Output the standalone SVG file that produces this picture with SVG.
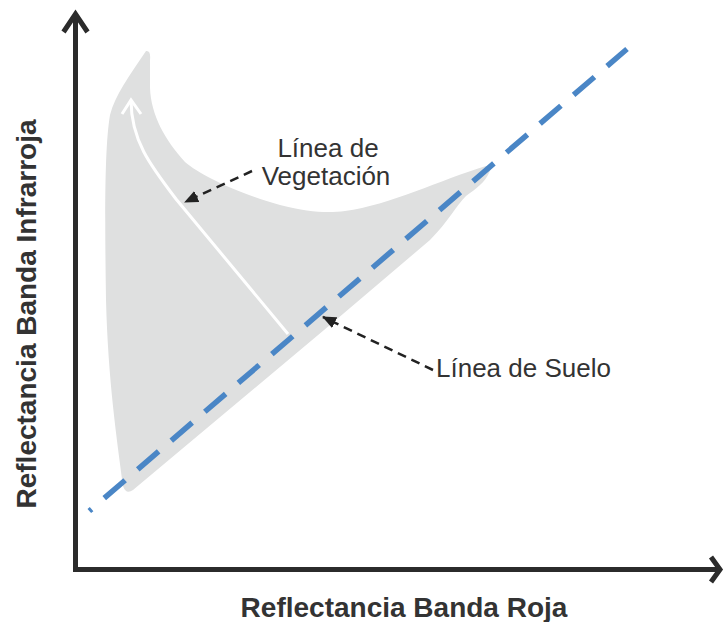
<svg xmlns="http://www.w3.org/2000/svg" width="725" height="622" viewBox="0 0 725 622">
  <defs>
    <style>
      .axis { fill: none; stroke: #2b2b2b; stroke-width: 5; stroke-linejoin: miter; }
      .lbl { font-family: "Liberation Sans", Arial, sans-serif; font-size: 26px; fill: #333333; }
      .axlbl { font-family: "Liberation Sans", Arial, sans-serif; font-size: 28px; font-weight: bold; fill: #333333; }
      .leader { fill: none; stroke: #222222; stroke-width: 2.5; stroke-dasharray: 9 6; }
    </style>
    <marker id="head" markerUnits="userSpaceOnUse" viewBox="0 0 14 12" refX="13" refY="6" markerWidth="14" markerHeight="12" orient="auto">
      <path d="M0,0 L14,6 L0,12 Z" fill="#222222"/>
    </marker>
  </defs>

  <g id="region">
    <path d="M146,51 Q151,50 150,60 L150,88 C151,115 165,140 185,162 C200,175 235,192 280,205 C310,213 330,213 345,211 C390,205 440,180 486,166 Q494,164 489,173 C485,182 476,189 466,196 C456,206 448,222 430,240 L330,325 L133,490 Q126,495 123,486 C117,440 108,380 106,300 C105,230 104,150 110,115 C115,95 130,75 146,51 Z" fill="#dfe0e0"/>
  </g>

  <g id="vegetation-arrow">
    <path d="M288,334 L176,199 C150,165 131,140 131,100" fill="none" stroke="#ffffff" stroke-width="3"/>
    <polyline points="122,114 131,100 141,114" fill="none" stroke="#ffffff" stroke-width="3"/>
  </g>

  <g id="soil-line">
    <line x1="89.3" y1="511" x2="627" y2="49" stroke="#4a86c6" stroke-width="5.5" stroke-dasharray="3 16.7 27.5 16.7 27.5 16.7 27.5 16.7 27.5 16.7 27.5 16.7 27.5 16.7 27.5 16.7 27.5 16.7 27.5 16.7 27.5 16.7 27.5 16.7 27.5 16.7 27.5 16.7 27.5 16.7 27.5 16.7 27.5 16.7 40"/>
  </g>

  <g id="axes">
    <path class="axis" d="M75.5,14 L75.5,569.5 L720,569.5"/>
    <polyline class="axis" points="63.5,32 75.5,14 87.5,32"/>
    <polyline class="axis" points="711,557 720,569.5 711,582"/>
  </g>

  <g id="connectors">
    <line class="leader" x1="252" y1="171" x2="185" y2="202" marker-end="url(#head)"/>
    <line class="leader" x1="433" y1="370" x2="323" y2="317" marker-end="url(#head)"/>
  </g>

  <g id="label-vegetation">
    <text class="lbl" x="328" y="157" text-anchor="middle">Línea de</text>
    <text class="lbl" x="326" y="185" text-anchor="middle">Vegetación</text>
  </g>
  <g id="label-soil">
    <text class="lbl" x="436" y="377">Línea de Suelo</text>
  </g>
  <g id="label-x">
    <text class="axlbl" x="404" y="617" text-anchor="middle">Reflectancia Banda Roja</text>
  </g>
  <g id="label-y">
    <text class="axlbl" transform="translate(36,314) rotate(-90)" text-anchor="middle">Reflectancia Banda Infrarroja</text>
  </g>
</svg>
